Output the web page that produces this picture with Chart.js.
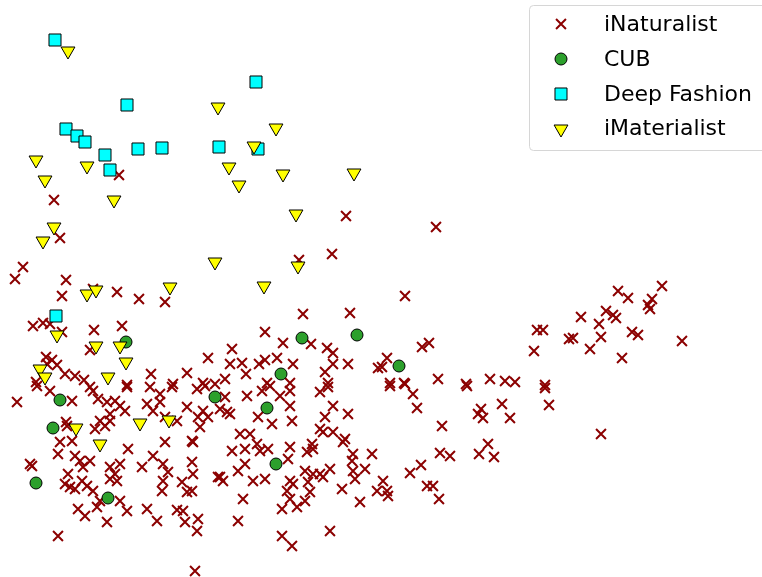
<!DOCTYPE html>
<html>
<head>
<meta charset="utf-8">
<script src="https://cdn.jsdelivr.net/npm/chart.js"></script>
<style>
  html, body { margin: 0; padding: 0; background: #fff; }
  #wrap { width: 762px; height: 577px; }
</style>
</head>
<body>
<div id="wrap"><canvas id="scatter" width="762" height="577"></canvas></div>
<script>
// embedding coords (x right, y down)
const seriesNames = ['iNaturalist', 'CUB', 'Deep Fashion', 'iMaterialist'];

const inatPoints = [
  [119,175],[54,200],[60,238],[23,267],[15,279],[66,280],[62,296],[93,289],[117,292],[139,299],
  [165,302],[33,326],[43,323],[50,324],[62,332],[94,330],[122,326],[90,350],[46,357],[52,360],
  [57,365],[65,374],[75,376],[84,380],[151,374],[187,373],[173,384],[36,382],[127,385],[47,364],
  [346,216],[332,254],[299,260],[303,314],[350,313],[265,332],[283,343],[311,344],[232,349],[327,348],
  [333,353],[208,358],[230,364],[242,363],[259,364],[265,360],[277,358],[293,364],[333,364],[348,364],
  [378,368],[325,372],[246,374],[225,379],[203,383],[215,384],[267,383],[290,383],[328,383],
  [436,227],[405,296],[422,347],[429,343],[537,330],[543,330],[534,351],[569,339],[387,358],[382,367],
  [390,383],[404,383],[438,379],[466,384],[490,379],[505,381],[515,382],[545,385],
  [662,286],[618,291],[628,298],[652,299],[648,305],[650,309],[606,311],[613,315],[616,318],[581,317],
  [599,324],[632,332],[638,335],[573,338],[601,337],[682,341],[590,349],[622,358],
  [17,402],[37,386],[50,391],[72,401],[66,422],[60,442],[58,454],[72,441],[75,456],[80,461],
  [83,467],[90,461],[95,429],[100,421],[105,426],[110,421],[93,391],[98,399],[107,402],[115,401],
  [120,406],[125,411],[110,414],[127,387],[30,464],[32,466],[68,474],[65,484],[70,487],[75,489],
  [82,481],[87,486],[93,491],[100,501],[97,507],[78,509],[85,516],[107,522],[120,501],[127,511],
  [147,509],[157,521],[58,536],[110,467],[115,474],[110,479],[120,464],[117,481],[128,449],[142,467],
  [153,456],[165,442],[163,464],[168,472],[163,481],[162,491],[182,482],[187,492],[177,510],[183,511],
  [185,522],[147,404],[153,411],[160,402],[165,417],[150,387],[160,394],[172,387],[177,421],[187,407],
  [192,441],[90,387],[67,426],
  [197,389],[205,386],[225,397],[227,412],[220,409],[230,414],[203,411],[198,417],[208,417],[200,427],
  [193,442],[247,396],[262,391],[270,386],[280,396],[290,391],[290,406],[272,424],[258,417],[292,421],
  [240,434],[250,434],[232,451],[245,449],[257,444],[260,451],[268,449],[290,447],[288,459],[245,464],
  [238,471],[220,477],[223,481],[253,481],[265,479],[193,474],[192,491],[243,499],[290,481],[293,484],
  [287,491],[290,499],[282,509],[297,507],[305,501],[310,492],[305,471],[313,474],[308,482],[320,474],
  [323,477],[330,469],[307,452],[313,449],[312,444],[320,429],[323,432],[325,417],[333,406],[320,392],
  [328,387],[333,432],[345,439],[343,442],[348,414],[353,454],[352,461],[353,471],[355,479],[365,469],
  [372,454],[342,489],[360,502],[377,491],[330,531],[282,536],[292,546],[238,521],[198,519],[197,531],
  [195,571],[192,462],[218,477],
  [390,386],[405,384],[413,394],[417,408],[442,426],[467,386],[478,414],[481,409],[483,418],[502,404],
  [510,418],[545,388],[549,405],[440,453],[450,456],[488,444],[479,454],[494,457],[421,465],[410,473],
  [383,481],[387,491],[388,496],[427,486],[433,486],[439,499],[601,434]
];

const cubPoints = [
  [126,342],[302,338],[357,335],[281,374],[399,366],[60,400],[53,428],[36,483],[108,498],[215,397],
  [267,408],[276,464]
];

const fashionPoints = [
  [55,40],[127,105],[66,129],[77,136],[85,142],[105,155],[110,170],[138,149],[162,148],[256,82],
  [219,147],[258,149],[56,316]
];

const materialPoints = [
  [68,51],[36,160],[45,180],[87,166],[218,107],[276,128],[254,146],[229,167],[283,174],[354,173],
  [239,185],[114,200],[54,227],[43,241],[87,294],[96,290],[170,287],[57,335],[96,346],[120,346],
  [126,362],[40,369],[45,377],[108,377],[296,214],[215,262],[298,266],[264,286],[76,428],[100,444],
  [140,423],[169,420]
];

const markerStyles = [
  { pointStyle: 'crossRot', radius: 7, fill: '#8b0000', border: '#8b0000', width: 2, rotation: 0 },
  { pointStyle: 'circle', radius: 6, fill: '#2ca02c', border: '#000000', width: 1, rotation: 0 },
  { pointStyle: 'rect', radius: 8.5, fill: '#00ffff', border: '#000000', width: 1, rotation: 0 },
  { pointStyle: 'triangle', radius: 8, fill: '#ffff00', border: '#000000', width: 1, rotation: 180 }
];

const allPoints = [inatPoints, cubPoints, fashionPoints, materialPoints];

// legend box in the top right corner, cut off at the edge like the original
const cornerLegend = {
  id: 'cornerLegend',
  afterDatasetsDraw(chart) {
    const ctx = chart.ctx;
    ctx.save();
    ctx.beginPath();
    ctx.roundRect(529.5, 5.5, 260, 145, 4);
    ctx.fillStyle = 'rgba(255,255,255,0.8)';
    ctx.fill();
    ctx.strokeStyle = '#d6d6d6';
    ctx.lineWidth = 1;
    ctx.stroke();

    const rowsY = [24, 59, 94, 128];
    ctx.font = '22px "DejaVu Sans"';
    ctx.textBaseline = 'middle';
    seriesNames.forEach((name, i) => {
      const m = markerStyles[i];
      ctx.save();
      ctx.fillStyle = m.fill;
      ctx.strokeStyle = m.border;
      ctx.lineWidth = m.width;
      Chart.helpers.drawPoint(ctx, {
        pointStyle: m.pointStyle,
        radius: m.radius,
        rotation: m.rotation,
        borderWidth: m.width
      }, 561, rowsY[i] + (i === 3 ? 1 : 0));
      ctx.restore();
      ctx.fillStyle = '#000';
      ctx.fillText(name, 604, rowsY[i] + 1);
    });
    ctx.restore();
  }
};

new Chart(document.getElementById('scatter'), {
  type: 'scatter',
  data: {
    datasets: seriesNames.map((name, i) => ({
      label: name,
      data: allPoints[i].map(p => ({ x: p[0], y: p[1] })),
      pointStyle: markerStyles[i].pointStyle,
      pointRadius: markerStyles[i].radius,
      pointRotation: markerStyles[i].rotation,
      backgroundColor: markerStyles[i].fill,
      borderColor: markerStyles[i].border,
      borderWidth: markerStyles[i].width,
      order: 4 - i
    }))
  },
  options: {
    responsive: false,
    animation: false,
    layout: { padding: 0, autoPadding: false },
    plugins: {
      legend: { display: false },
      tooltip: { enabled: false }
    },
    scales: {
      x: { type: 'linear', min: 0, max: 762, display: false },
      y: { type: 'linear', min: 0, max: 577, reverse: true, display: false }
    }
  },
  plugins: [cornerLegend]
});
</script>
</body>
</html>
